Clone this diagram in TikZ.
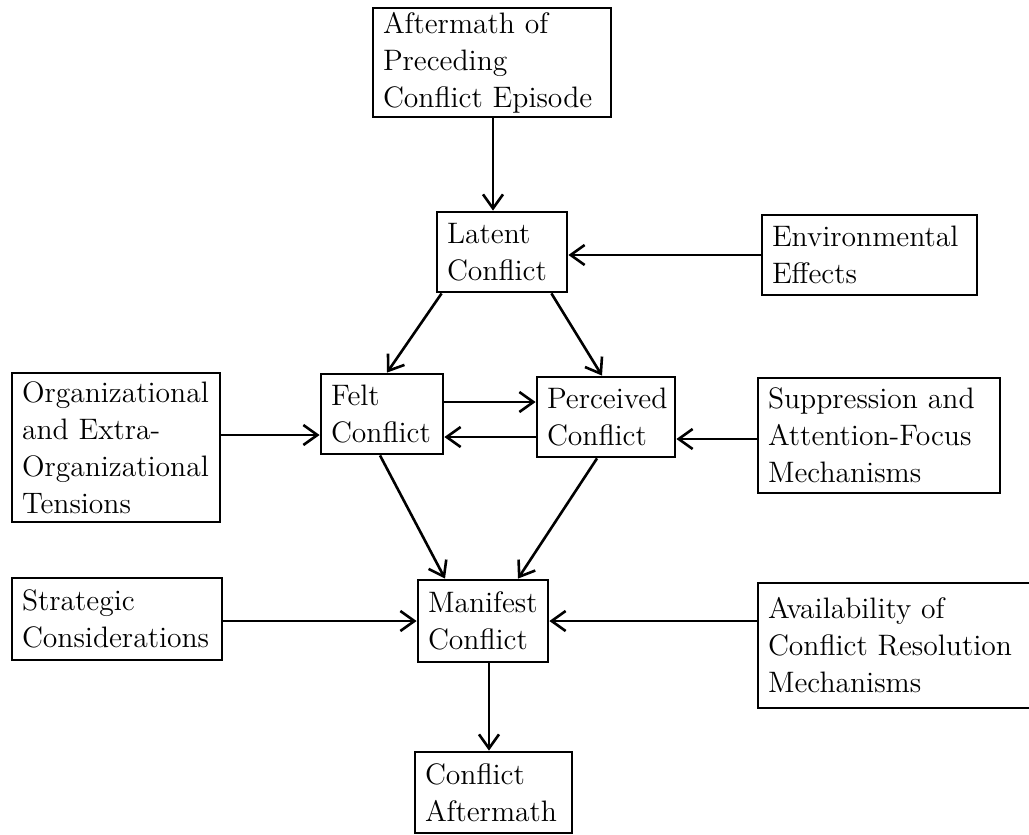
\documentclass[tikz,border=0pt]{standalone}
\usetikzlibrary{arrows.meta,calc}
\begin{document}
\begin{tikzpicture}[x=0.5pt,y=-0.5pt,
  box/.style={draw,line width=1.4pt,rectangle,inner xsep=5pt,inner ysep=0pt,align=left,
    font=\fontsize{14.8}{18.5}\selectfont},
  conn/.style={line width=1.3pt,-{Straight Barb[length=7pt,width=10pt,line width=1.3pt]}}]
\clip (0,0) rectangle (1029,835);
\fill[white] (0,0) rectangle (1029,835);
% boxes
\node[box,text width=109pt,minimum height=54.5pt] (aft) at (492,62.5) {Aftermath of\\Preceding\\Conflict Episode};
\node[box,text width=55pt,minimum height=40pt] (lat) at (502,252) {Latent\\Conflict};
\node[box,text width=97.5pt,minimum height=40pt] (env) at (869.5,255) {Environmental\\Effects};
\node[box,text width=94pt,minimum height=74.5pt] (org) at (116,447.5) {Organizational\\and Extra-\\Organizational\\Tensions};
\node[box,text width=51pt,minimum height=40pt] (felt) at (382,414) {Felt\\Conflict};
\node[box,text width=59pt,minimum height=40pt] (perc) at (606,417) {Perceived\\Conflict};
\node[box,text width=111pt,minimum height=57.5pt] (sup) at (879,435.5) {Suppression and\\Attention-Focus\\Mechanisms};
\node[box,text width=95pt,minimum height=41pt] (str) at (117,619) {Strategic\\Considerations};
\node[box,text width=55pt,minimum height=41pt] (man) at (483,621) {Manifest\\Conflict};
\node[box,text width=131pt,minimum height=62.5pt] (ava) at (899,645.5) {Availability of\\Conflict Resolution\\Mechanisms};
\node[box,text width=68.5pt,minimum height=40.5pt] (caft) at (493.5,792.5) {Conflict\\Aftermath};
% connectors
\coordinate (a1) at ([xshift=0.5pt]aft.south);
\draw[conn] (a1) -- (a1 |- lat.north);
\coordinate (e1) at (env.west);
\draw[conn] (e1) -- (e1 -| lat.east);
\draw[conn] ([xshift=3pt]lat.south west) -- ([xshift=2.5pt]felt.north);
\draw[conn] ([xshift=-8.5pt]lat.south east) -- ([xshift=-2pt]perc.north);
\coordinate (f1) at ([yshift=-10.5pt]felt.west);
\draw[conn] (f1 -| org.east) -- (f1);
\coordinate (f2) at ([yshift=6pt]felt.east);
\draw[conn] (f2) -- (f2 -| perc.west);
\coordinate (f3) at ([yshift=-11.5pt]felt.east);
\draw[conn] (f3 -| perc.west) -- (f3);
\coordinate (p1) at ([yshift=-11pt]perc.east);
\draw[conn] (p1 -| sup.west) -- (p1);
\draw[conn] ([xshift=-1pt]felt.south) -- ([xshift=-19pt]man.north);
\draw[conn] ([xshift=-4.5pt]perc.south) -- ([xshift=17.5pt]man.north);
\coordinate (m1) at (man.west);
\draw[conn] (m1 -| str.east) -- (m1);
\coordinate (m2) at (man.east);
\draw[conn] (m2 -| ava.west) -- (m2);
\coordinate (m3) at ([xshift=3pt]man.south);
\draw[conn] (m3) -- (m3 |- caft.north);
\end{tikzpicture}
\end{document}
